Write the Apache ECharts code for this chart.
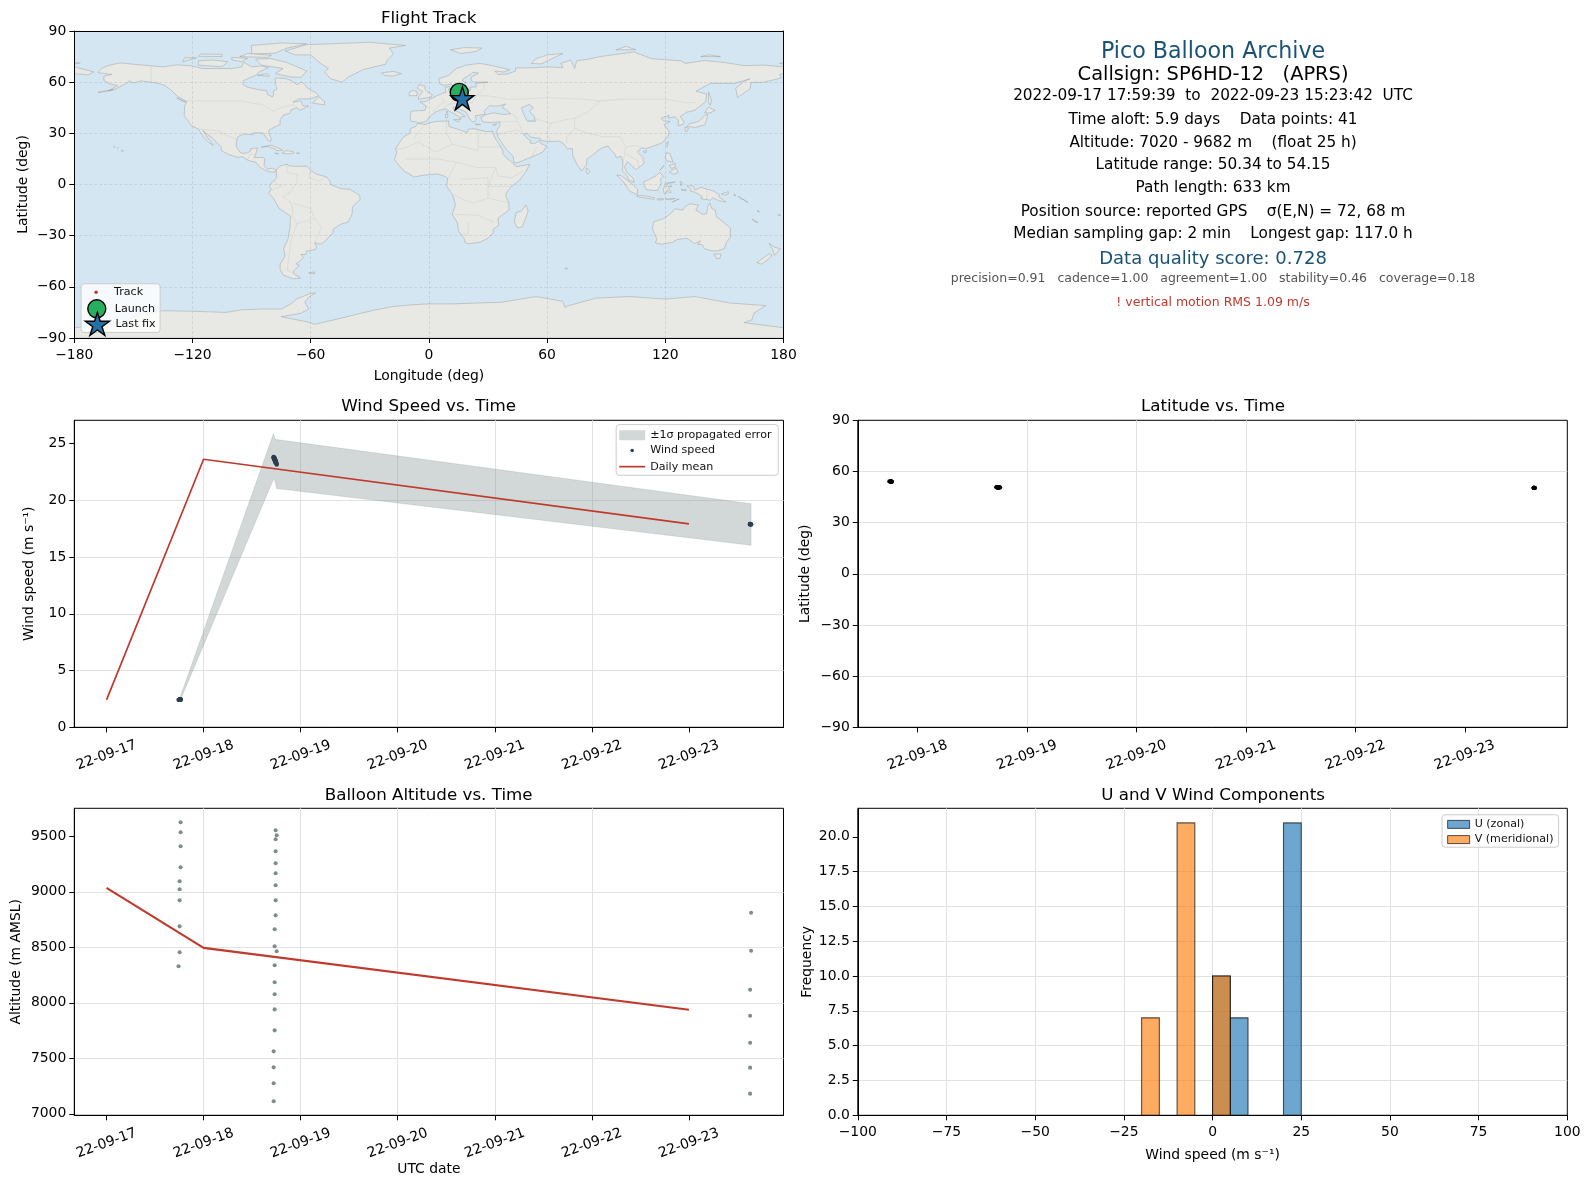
<!DOCTYPE html>
<html><head><meta charset="utf-8">
<style>html,body{margin:0;padding:0;background:#fff}#c{width:1589px;height:1189px}</style>
<script src="https://cdn.jsdelivr.net/npm/echarts@6/dist/echarts.min.js"></script>
</head><body><div id="c"></div>
<script>
// ---------- data ----------
const dayTicksWind = [17,18,19,20,21,22,23];
const dayTicksLat = [18,19,20,21,22,23];
const lonTicks = [-180,-120,-60,0,60,120,180];
const latTicks = [-90,-60,-30,0,30,60,90];
const windTicks = [0,5,10,15,20,25];
const altTicks = [7000,7500,8000,8500,9000,9500];
const histXTicks = [-100,-75,-50,-25,0,25,50,75,100];
const histYTicks = [0,2.5,5,7.5,10,12.5,15,17.5,20];

// sample time (day of September 2022, UTC)
const sampleDay = [17.742,17.753,17.753,17.753,17.753,17.753,17.763,17.763,17.763,17.763,
 18.722,18.722,18.722,18.722,18.732,18.732,18.732,18.732,18.732,18.753,18.732,18.732,18.742,18.742,18.742,18.742,18.742,18.742,18.742,18.753,18.742,
 23.630,23.630,23.630,23.630,23.630,23.640,23.640];
const sampleAlt = [8329,8455,8689,8923,9023,9095,9221,9410,9536,9626,
 7113,7275,7419,7563,7752,7941,8077,8185,8338,8464,8509,8662,8788,8923,9059,9167,9257,9365,9473,9509,9554,
 7182,7416,7640,7884,8118,8469,8811];
const sampleLat = [54.15,54.13,54.12,54.10,54.08,54.07,54.05,54.03,54.02,54.00,
 50.75,50.74,50.74,50.73,50.72,50.71,50.71,50.70,50.69,50.68,50.68,50.67,50.66,50.65,50.65,50.64,50.63,50.62,50.62,50.61,50.60,
 50.40,50.39,50.38,50.37,50.36,50.35,50.34];
const sampleLon = [15.2,15.2,15.3,15.3,15.3,15.4,15.4,15.4,15.5,15.5,
 16.0,16.0,16.0,16.1,16.1,16.1,16.1,16.2,16.2,16.2,16.2,16.3,16.3,16.3,16.3,16.4,16.4,16.4,16.4,16.5,16.5,
 17.0,17.0,17.0,17.1,17.1,17.1,17.1];
const sampleWind = [2.42,2.46,2.44,2.47,2.45,2.43,2.46,2.44,2.46,2.45,
 23.83,23.80,23.76,23.72,23.70,23.68,23.65,23.62,23.58,23.15,23.55,23.52,23.50,23.48,23.45,23.42,23.40,23.38,23.35,23.25,23.32,
 17.90,17.88,17.92,17.89,17.91,17.90,17.87];
const launchPoint = [15.4,54.0];
const lastFixPoint = [17.0,50.5];

const bandDay =   [17.756,18.72,18.735,18.753,23.64];
const bandUpper = [2.6,25.88,25.40,25.35,19.70];
const bandLower = [2.3,21.86,21.70,21.04,16.04];

const meanDay = [17,18,23];
const meanWind = [2.42,23.62,17.92];
const meanAlt = [9035,8495,7938];

const uBinLeft = [0,5,20], uBinRight = [5,10,25], uCount = [10,7,21];
const vBinLeft = [-20,-10,0], vBinRight = [-15,-5,5], vCount = [7,21,10];

const infoLines = [
 'Pico Balloon Archive','Callsign: SP6HD-12   (APRS)','2022-09-17 17:59:39  to  2022-09-23 15:23:42  UTC',
 'Time aloft: 5.9 days    Data points: 41','Altitude: 7020 - 9682 m    (float 25 h)','Latitude range: 50.34 to 54.15',
 'Path length: 633 km','Position source: reported GPS    σ(E,N) = 72, 68 m','Median sampling gap: 2 min    Longest gap: 117.0 h',
 'Data quality score: 0.728','precision=0.91   cadence=1.00   agreement=1.00   stability=0.46   coverage=0.18','! vertical motion RMS 1.09 m/s'];

// coastlines, [lon,lat] outlines
const landOutlines = [
 // North America
 [[-168,65.6],[-166,68.3],[-162,70],[-156.5,71.3],[-150,70.5],[-141,69.6],[-135,69],[-128,70.2],[-120,69.5],[-115,68],[-108,68],[-100,68],[-95,69],[-94,71.8],[-90,69],[-85,69.5],[-81.5,68.5],[-86,66],[-88,64],[-94,61],[-94.5,58.8],[-92,57],[-85,55.3],[-82.3,55],[-82,52.8],[-79.5,51.3],[-78.8,52.5],[-79,54.7],[-77,56],[-78,58.7],[-78,62.4],[-73,62.2],[-70,61],[-67,58.5],[-64.5,60.2],[-61.5,56.5],[-57,53.5],[-56,52],[-60,50.2],[-66,50.2],[-69,48.3],[-65,49],[-64.5,47.8],[-64,46.2],[-61,46],[-65.5,43.5],[-67,45],[-70,43.7],[-70.5,41.8],[-74,40.6],[-75.5,38],[-75.5,35.2],[-77.8,34],[-81,32],[-81.4,30.5],[-80,26.8],[-80.4,25.2],[-81.8,26],[-82.8,28],[-84,30],[-86,30.4],[-89.5,30.2],[-89.3,29.1],[-91.5,29.4],[-94,29.6],[-97.2,27.8],[-97.7,24.5],[-97.8,22.3],[-96,19],[-94.5,18.2],[-92,18.6],[-90.7,19.5],[-90.3,21],[-87,21.5],[-87.7,18.5],[-88.7,15.8],[-84,15.8],[-83.3,15],[-83.7,11],[-82,9],[-79.5,9.5],[-77.4,8.6],[-78,7.5],[-80.5,7.3],[-83,8.3],[-85.7,10],[-87.7,13],[-91.5,14],[-94.5,16.2],[-97,15.9],[-101.5,17.5],[-105.5,20],[-105.3,21.8],[-108,25],[-109.5,27],[-112.5,29.5],[-114.7,31.7],[-112.8,28],[-110,24],[-109.5,23],[-112,24.8],[-114.5,28],[-117,32.5],[-120.6,34.5],[-122.5,37.5],[-124.2,40.3],[-124,46],[-123,48.5],[-125,50],[-128,52],[-130.5,55],[-134,58],[-138,59.5],[-146,60.8],[-150,59.5],[-152,60.8],[-154,59],[-160,55.5],[-163,54.8],[-158,58],[-162,59],[-165,61],[-165,63.5],[-161,64.5]],
 // Greenland
 [[-73,78.3],[-68,76],[-60,76],[-55,71],[-51,68],[-53,66],[-50,62],[-44,60],[-41,63],[-33,67.5],[-22,70.5],[-21,73],[-18,76.5],[-20,80],[-12,81.5],[-30,83.4],[-50,82.5],[-62,82]],
 // Canadian Arctic and Atlantic Canada
 [[-80,73.8],[-72,71.5],[-67,69],[-62,66.5],[-65,62.8],[-70,63],[-78,65],[-74,68],[-85,70],[-88,73.5]],
 [[-117,70],[-105,69],[-102,72],[-110,73],[-117,72.5]],
 [[-125,72],[-118,74.3],[-124,74.3]],
 [[-90,76.5],[-78,77],[-72,80],[-62,82.5],[-75,83],[-90,81.5]],
 [[-96,75],[-82,74.5],[-80,75.8],[-92,76.8]],
 [[-117,75.2],[-105,75],[-105,76.3],[-116,76.5]],
 [[-100,73],[-95,72],[-92,74],[-100,74.5]],
 [[-87,64],[-81,63.5],[-82,65]],
 [[-59,47.7],[-53,46.7],[-53,48.7],[-56,51.5]],
 [[-128,50.8],[-123.3,48.4],[-125,48.8]],
 // Caribbean, Pacific
 [[-85,21.9],[-80,23],[-75,20.7],[-74.2,20.1],[-77.5,19.9],[-78,20.7],[-82,22.4]],
 [[-74.4,18.4],[-72.5,19.9],[-69,19.3],[-68.4,18.5],[-71.5,17.8]],
 [[-78.3,18.4],[-76.3,18.2],[-77.2,17.8]],
 [[-67.2,18.5],[-65.6,18.4],[-66.5,18]],
 [[-156,20.2],[-155,19.7],[-155.7,19]],
 [[-158.2,21.6],[-157.7,21.4],[-158,21.2]],
 [[-160,22.2],[-159.3,22.1],[-159.6,21.9]],
 [[-168,54],[-160,55.8],[-165,54.4]],
 // South America
 [[-77.4,8.6],[-75.6,10.8],[-72,12],[-71.3,11],[-68,10.7],[-62,10.7],[-60,8.4],[-57,6],[-52,4.5],[-50,1.5],[-50,0],[-44.5,-2.5],[-40,-2.8],[-37,-5],[-35,-6.5],[-35,-9],[-38.8,-13],[-39,-17.5],[-41,-22],[-44.5,-23.2],[-48.5,-26],[-48.8,-28.5],[-53,-33.5],[-55,-35],[-58,-34.2],[-57,-36.5],[-57.7,-38.2],[-62,-39],[-62.5,-41],[-65,-41],[-63.7,-42.7],[-65.5,-45],[-67.5,-46.5],[-65.8,-47.5],[-69,-51],[-68.3,-52.5],[-65.2,-54.8],[-69,-55.3],[-74,-53],[-75.5,-50],[-75.5,-46.7],[-73,-42],[-73.7,-37.5],[-71.5,-32],[-70.5,-25],[-70.3,-18.5],[-76,-14],[-79,-8],[-81.3,-5],[-80,-2.5],[-81,-1],[-80,1],[-78.8,2],[-77.2,4],[-77.5,7]],
 [[-61,-51.8],[-58,-51.3],[-58,-52.2],[-60,-52.3]],
 // Africa
 [[-5.8,35.8],[-2,35.2],[3,36.9],[10,37.3],[10.2,34],[15,32.3],[19.5,30.4],[20,32.5],[23,32.7],[29,31],[32.5,31.2],[32.4,30],[32.7,29.5],[34,26.5],[36,23],[37.5,20],[37.5,18],[39.5,15.5],[43,12.2],[43.3,11.5],[44.5,10.5],[51.2,11.8],[49,7],[46,2.5],[42,-1],[39.5,-4.5],[39,-7],[40.5,-10.5],[40.7,-15],[36.5,-18.5],[35,-20],[35.5,-24],[32.8,-26],[32.5,-28.5],[30,-31.5],[26,-33.8],[20,-34.8],[18.3,-34],[18,-32],[15,-27],[14.5,-22.5],[11.8,-17.5],[13.5,-12],[12,-6],[9,-1],[9.5,3.5],[8.5,4.6],[4.5,6.2],[1,5.9],[-4,5.2],[-7.5,4.4],[-12.5,7.8],[-15,11],[-17.5,14.7],[-16.2,19],[-17,21],[-15,24.5],[-13,27.8],[-9.7,30],[-9.3,32.8],[-6.5,34.2]],
 [[49.3,-12],[50.4,-15.5],[47.5,-24.8],[45,-25.5],[43.3,-22],[44.3,-16.5],[47,-15.5]],
 // Eurasia
 [[-9,37],[-9.5,39],[-9,43],[-2,43.5],[-1.3,46],[-4.5,48.4],[-1.5,48.7],[1.5,50.5],[4,52],[7,53.5],[8.7,54],[8.2,56.8],[10.6,57.6],[10,55],[11,54],[14,54],[18.5,54.7],[21,55],[21,57],[24,57.2],[24,59.3],[30,60],[23,60],[21.3,61],[21.5,63],[25.3,65.3],[22.3,65.8],[21,64.5],[17.5,62],[17,60.7],[18.8,59.8],[16.5,57],[14.3,55.5],[12.7,55.8],[11.2,59],[8,58],[5.5,59],[5,62],[10,64],[14,68],[19,70],[25.7,71],[31,70],[41,67.3],[38,66],[33.5,66.5],[35,64.5],[40,64.8],[44,66.5],[44,68.3],[54,68.5],[60,69],[68,68.5],[67,71],[72,73],[74,68],[75,72.5],[81,73.5],[87,75],[104,77.7],[113,73.8],[128,72.5],[130,71],[140,72.7],[150,71.5],[160,69.7],[170,70],[180,69],[180,65],[178,64.5],[179,62.5],[170,60],[163.5,59.8],[163,56],[156.7,51],[155.7,56.5],[160,60.5],[163,62],[155,59.3],[143,59.3],[135.5,54.7],[141,53],[140.5,48.5],[135,43.5],[130.7,42.3],[127.5,39.8],[129.5,37],[129,35.2],[126.5,34.5],[126.7,37.7],[125,39.7],[121.5,39],[122,40.6],[118,39],[119,37.3],[122.5,37],[119.3,35],[122,31],[121.5,28.5],[118.5,24.5],[113.5,22.3],[110,21],[108,21.6],[105.8,19],[108.5,16],[109.3,12.5],[106.7,10],[105,8.7],[103,11],[100.8,13.5],[99.3,10],[100.5,7],[103.5,4],[104.2,1.4],[101.5,2.5],[100.3,5.5],[98.3,8],[98.5,13],[97.5,16.5],[95,15.8],[94.3,18],[92,21],[91,22.5],[88.5,21.8],[86.8,20.7],[82.3,16.6],[80.2,15],[80,11.5],[77.5,8],[75,12],[73,17],[72.8,21],[70.2,21],[68.7,23.5],[66.5,25.4],[61.5,25.2],[57.3,25.7],[56.5,27],[51.5,27.8],[50,30],[48,29.5],[50.2,26.7],[51.5,25.8],[51.5,24.2],[54,24.2],[56.3,26],[56.8,24],[59.8,22.5],[57.8,19],[52,16],[45,12.8],[43.2,12.8],[42.7,16.5],[39,21],[35,28],[34.9,29.5],[34.3,31.3],[36,34.5],[36,36.7],[30.5,36.3],[27.3,36.8],[26.3,39.4],[29,41],[33,42],[38,41],[41.5,41.5],[39,44],[37,45.3],[39,47.2],[35,46],[33,46],[30.8,46.3],[28,43],[28.5,41.3],[26,40.7],[23.5,40.3],[24,38],[22.8,36.5],[21.2,37.7],[19.5,41],[19,42.3],[14,45.2],[12.3,45.3],[12.5,44],[16,41.8],[18.4,40],[16.6,39.8],[16,38],[15.8,39.5],[12.5,41.6],[10.2,43],[8.7,44.4],[5,43.3],[3.1,42.3],[0,39.5],[-0.5,38],[-2,36.8],[-5.5,36],[-6.4,36.7]],
 [[-180,69],[-175,67.5],[-170,66],[-173,64.3],[-180,65]],
 // Europe islands
 [[-5.5,50],[1.2,51.2],[1.7,52.7],[-1,54.5],[-2,56],[-2,57.6],[-5,58.6],[-6,56.5],[-3,54.5],[-5,52]],
 [[-10,52],[-6,52.2],[-6,54.5],[-8.5,55.2],[-10,54]],
 [[-24,65.5],[-18,66.3],[-14,65],[-18.5,63.5],[-22.5,64]],
 [[11,79],[16,76.8],[24,78],[27,80],[18,80.3]],
 [[52,71],[57,70.7],[68,76.8],[60,76],[54,73.5]],
 [[95,79],[105,79],[100,81]],
 [[138,75],[148,75],[142,76]],
 [[178,71],[180,71.5],[180,70.8]],
 [[-180,71.5],[-177,71.2],[-180,70.8]],
 [[8.3,41],[9.7,41],[9.5,39.2],[8.5,39]],
 [[8.7,42.8],[9.5,42.8],[9.2,41.5]],
 [[12.5,38],[15.6,38.2],[15,36.7]],
 [[23.5,35.5],[26.2,35.2],[24,35]],
 [[32.4,35],[34.5,35.6],[33.5,34.7]],
 // Asia islands
 [[80,9.7],[81.8,7.5],[80.5,6],[79.8,8]],
 [[130.9,34],[135.5,33.5],[140,35],[141,38],[141.5,41.3],[140,40.5],[137,37],[132,35.5]],
 [[130,33.5],[131.8,33],[131,31],[130.2,31.3]],
 [[140,42],[141.8,45.4],[145.3,43.5],[143,42]],
 [[142,54.3],[143.5,49],[142.8,46.5],[142,48]],
 [[121.5,25.2],[121,22],[120.2,23]],
 [[108.7,19.3],[110.5,20],[110,18.3]],
 [[120.5,18.5],[122.2,18.3],[124,13],[120.7,14],[120,16]],
 [[122,7.2],[125.5,9.7],[126.5,7],[124,6]],
 [[122,11],[125,12.3],[125,10],[123,9.5]],
 [[117.2,8.4],[119.5,11.3],[118,9.2]],
 [[109,1.5],[111.5,2.8],[115,5],[117,7],[119,5],[117.5,3],[118,1],[116,-3.5],[114,-3.5],[110.3,-3],[109,0]],
 [[95.3,5.5],[97.5,5.2],[103.5,0],[106,-3],[105.8,-5.8],[102,-4],[98.7,1.7]],
 [[105.3,-6.6],[108.5,-6.5],[114.5,-7.7],[114.3,-8.7],[106.5,-7.4]],
 [[119.5,-5.5],[119,-3],[120,0.8],[125,1.5],[121,0.4],[120.3,-1],[123.3,-1],[121.5,-2],[123,-4.5],[122,-5],[121,-3],[120.3,-5.5]],
 [[116,-8.4],[119,-8.3],[119,-9],[116,-9]],
 [[120,-8.5],[125,-8.2],[122,-9]],
 [[123.5,-10.3],[127,-8.4],[125,-9.5]],
 [[127.5,1.8],[128.8,1],[128,-0.8]],
 [[128,-3],[130.8,-3.2],[129,-3.5]],
 // Oceania
 [[131,-0.8],[134,-0.8],[135,-3.3],[138,-1.7],[144.5,-3.8],[147.5,-6],[147,-7],[150.8,-10.3],[147,-9.5],[144,-7.7],[143,-9.2],[138,-8.3],[138.7,-7],[135,-4.4],[132.8,-4],[133,-2.7]],
 [[148.5,-5.5],[152,-4.2],[152,-5.5],[150,-6.3]],
 [[155,-5.5],[155.8,-6.8],[155,-6.5]],
 [[157,-7],[160,-9],[159,-8.8]],
 [[160,-9],[162,-10.5],[161,-10.2]],
 [[166.6,-15],[167.8,-16],[167,-16]],
 [[164,-20.2],[167,-22.3],[165,-21.5]],
 [[177.3,-17.5],[178.6,-18],[177.5,-18.2]],
 [[114,-22],[113.5,-26],[115.7,-32],[115,-34.3],[118,-35],[123.5,-34],[126,-32.3],[131,-31.5],[135,-34.7],[137.8,-33],[136.5,-35.3],[138.5,-35],[140,-37.8],[143.5,-38.8],[146.3,-39],[150,-37.5],[151,-34],[153,-31],[153,-25.5],[149.5,-22],[146,-19],[145.3,-15],[143.5,-14],[142.5,-10.8],[141.5,-13],[141,-17],[139,-17.5],[135.5,-15],[136.8,-12],[132.5,-11.3],[130,-13],[129,-15],[125,-14.2],[122.3,-17.5],[119,-20]],
 [[144.8,-40.8],[148.2,-40.8],[147.8,-43.2],[146,-43.5]],
 [[172.7,-34.5],[175.5,-36.8],[178.4,-37.7],[175.3,-41.6],[174.8,-39]],
 [[172.7,-40.6],[174.2,-41.7],[171,-45],[169,-46.7],[166.5,-45.8],[171,-42]],
 [[69,-49],[70.5,-49.2],[69.5,-49.7]],
 // Antarctica
 [[-180,-84],[-155,-81],[-148,-76.5],[-135,-74],[-120,-74.3],[-103,-75],[-95,-73.5],[-85,-73],[-75,-73],[-70,-70],[-67,-67],[-60,-63.8],[-57.5,-63.6],[-61,-66],[-63,-69],[-61,-73],[-65,-75.5],[-75,-77.5],[-62,-80.5],[-58,-82],[-45,-78.5],[-35,-75.6],[-27,-73.5],[-18,-71.5],[-8,-70.5],[0,-70],[12,-70],[37,-69],[54.4,-65.7],[68,-68.5],[69,-72],[71,-71],[85,-66.6],[102,-65.7],[120,-67.2],[135,-65.7],[153,-69.5],[171,-71],[165,-75.4],[164,-79.3],[160,-81],[180,-84],[180,-90],[-180,-90]]
];
const inlandSeas = [
 [[47,45],[51,47],[53,45],[51,43],[53.5,40],[54,37],[50,37.2],[49,39],[47.5,43]]
];
const borderLines = [
 [[-141,69.6],[-141,60.3]],[[-123,49],[-95,49],[-84,46.5],[-79,43],[-75,45],[-69,47],[-67,45]],
 [[-117,32.5],[-107,31.5],[-97.2,26]],[[-92,14.5],[-91,17.5],[-89,18]],
 [[-72,12],[-72,7],[-67,6],[-67,1.5],[-70,-4],[-74,-7],[-70,-11],[-69,-16],[-69.5,-18],[-67,-23],[-70,-33],[-72,-50],[-69,-52]],
 [[-60,8.4],[-61,4],[-56,2],[-52,4.5]],[[-80,-3.5],[-75,-1],[-78.8,2]],[[-60,-14],[-58,-20],[-54.5,-25.5],[-58,-34]],[[-69,-11],[-60,-14]],[[-67,-23],[-58,-20]],
 [[-17,21],[-13,21],[-5,25],[3,19],[12,23.5],[25,20],[25,32]],[[25,22],[37,22]],[[-12,15],[4,15],[14,13],[24,10],[34,10],[35,5],[42,4],[48,8]],
 [[9.5,3.5],[14,13]],[[16,3],[30,4],[30,-8],[22,-11],[12,-6]],[[30,-8],[40,-10.5]],[[12,-17.5],[25,-18],[33,-22]],[[20,-22],[20,-29],[17,-29]],[[34,10],[30,-1],[42,-1]],[[9,37],[9,30],[12,23.5]],[[-8,27],[-2,35]],
 [[22,48],[24,52],[28,56],[28,60]],[[40,50],[30,52],[24,52]],[[40,50],[48,50],[60,51],[78,50],[87,49],[98,50],[108,50],[120,50],[130,48],[135,48]],
 [[87,49],[80,42],[74,39],[62,36],[55,38],[50,37.2]],[[74,39],[74,33],[78,31],[88,28],[97,28],[100,22],[105,23],[108,21.6]],[[62,36],[60,30],[61.5,25.2]],[[74,33],[70,28],[70,24]],
 [[36,36.7],[45,37],[48,30]],[[34.9,29.5],[45,32],[48,29.5]],[[45,37],[44,40],[41.5,41.5]],[[55,22],[52,16]],
 [[100,22],[98.5,13]],[[100,18],[106,14],[106.7,10]],[[10,47],[17,48],[22,48]],[[2,43],[8,49],[6,51]],[[14,54],[15,51],[10,47],[7,44]],
 [[141,-2.6],[141,-9]]
];

// ---------- layout helpers ----------
const S = 1589/1568;            // legend and text offsets were measured on a view of the figure 1568 wide
const P = v => v*S;
const INK = '#000';
const GRIDLINE = '#e2e2e2';
const FONT = '"DejaVu Sans"';
const TICK_PX = 13.9, TITLE_PX = 16.7, LEG_PX = 11.1;
const minus = s => String(s).replace('-', '−');
const CIRCLE = 'path://M0,-10 A10,10 0 1,1 0,10 A10,10 0 1,1 0,-10 Z';
const STAR = 'path://M0,-10 L2.245,-3.09 L9.51,-3.09 L3.63,1.18 L5.88,8.09 L0,3.82 L-5.88,8.09 L-3.63,1.18 L-9.51,-3.09 L-2.245,-3.09 Z';

const gridBox = (left,top,width,height) => ({left,top,width,height,show:true,backgroundColor:'#fff',borderColor:INK,borderWidth:1});
const grids = [
 Object.assign(gridBox(74.3,31,709.2,307),{backgroundColor:'#d4e6f1',borderWidth:0,borderColor:'transparent'}),
 gridBox(74.3,420.3,709.2,307), gridBox(857.8,420.3,709.5,307), gridBox(74.3,808.3,709.2,307), gridBox(857.8,808.3,709.5,307)
];

function axis(gridIndex, dim, min, max, ticks, fmt, name, nameGap, extra) {
  const rot = extra && extra.rotated;
  const o = {
    type:'value', gridIndex, min, max, scale:true,
    name: name || '', nameLocation:'middle', nameGap: nameGap || 0,
    nameTextStyle:{fontFamily:FONT,fontSize:TICK_PX,color:INK},
    axisLine:{show:true,onZero:false,lineStyle:{color:INK,width:1}},
    axisTick:{show:true,length:5,inside:false,customValues:ticks,lineStyle:{color:INK,width:1}},
    axisLabel:{show:true,customValues:ticks,formatter:fmt,fontFamily:FONT,fontSize:TICK_PX,color:INK,margin:rot?28:(dim==='x'?10:8),hideOverlap:false,
      showMinLabel:true,showMaxLabel:true},
    splitLine:{show:true,showMinLine:false,showMaxLine:false,lineStyle:{color:GRIDLINE,width:1}},
    z: (extra && extra.z) || 0
  };
  if (dim === 'y') o.axisLabel.padding = [2,0,0,0];
  if (rot) { o.axisLabel.rotate = 20; o.axisLabel.align = 'center'; o.axisLabel.verticalAlign = 'middle'; }
  if (extra && extra.dashed) o.splitLine.lineStyle = {color:'rgba(110,120,125,0.22)',width:0.8,type:[3,2]};
  return o;
}
const dayFmt = v => '22-09-' + v;
const xAxes = [
 axis(0,'x',-180,180,lonTicks,minus,'Longitude (deg)',31,{dashed:true,z:3}),
 axis(1,'x',16.668,23.974,dayTicksWind,dayFmt,'',0,{rotated:true}),
 axis(2,'x',17.454,23.937,dayTicksLat,dayFmt,'',0,{rotated:true}),
 axis(3,'x',16.668,23.974,dayTicksWind,dayFmt,'UTC date',47,{rotated:true}),
 axis(4,'x',-100,100,histXTicks,minus,'Wind speed (m s⁻¹)',33),
 {type:'value',gridIndex:0,position:'top',min:-180,max:180,z:3,axisLine:{show:true,onZero:false,lineStyle:{color:INK,width:1}},axisTick:{show:false},axisLabel:{show:false},splitLine:{show:false}}
];
const yAxes = [
 axis(0,'y',-90,90,latTicks,minus,'Latitude (deg)',44,{dashed:true,z:3}),
 axis(1,'y',0,27.05,windTicks,String,'Wind speed (m s⁻¹)',38),
 axis(2,'y',-90,90,latTicks,minus,'Latitude (deg)',45),
 axis(3,'y',6987,9752,altTicks,String,'Altitude (m AMSL)',51),
 axis(4,'y',0,22.05,histYTicks,v=>v.toFixed(1),'Frequency',43),
 {type:'value',gridIndex:0,position:'right',min:-90,max:90,z:3,axisLine:{show:true,onZero:false,lineStyle:{color:INK,width:1}},axisTick:{show:false},axisLabel:{show:false},splitLine:{show:false}}
];

function polygonSeries(name, outlines, idx, style, z) {
  return {name, type:'custom', coordinateSystem:'cartesian2d', xAxisIndex:idx, yAxisIndex:idx, z, clip:true, silent:true,
    data: outlines.map((_, i) => [i]), encode:{x:-1,y:-1},
    renderItem:(params, api) => {
      const pts = outlines[api.value(0)].map(p => api.coord(p));
      return {type:'polygon', shape:{points:pts}, style};
    }};
}
function polylineSeries(name, lines, idx, style, z) {
  return {name, type:'custom', coordinateSystem:'cartesian2d', xAxisIndex:idx, yAxisIndex:idx, z, clip:true, silent:true,
    data: lines.map((_, i) => [i]), encode:{x:-1,y:-1},
    renderItem:(params, api) => ({type:'polyline', shape:{points:lines[api.value(0)].map(p => api.coord(p))}, style})};
}
function histSeries(name, left, right, count, fill) {
  return {name, type:'custom', coordinateSystem:'cartesian2d', xAxisIndex:4, yAxisIndex:4, z:2, silent:true,
    data: left.map((l, i) => [l, right[i], count[i]]), encode:{x:[0,1],y:2},
    itemStyle:{color:fill},
    renderItem:(params, api) => {
      const a = api.coord([api.value(0), 0]), b = api.coord([api.value(1), api.value(2)]);
      return {type:'rect', shape:{x:a[0], y:b[1], width:b[0]-a[0], height:a[1]-b[1]},
        style:{fill, stroke:'rgba(0,0,0,0.65)', lineWidth:1.1}};
    }};
}
const zip = (a, b) => a.map((v, i) => [v, b[i]]);
const bandOutline = [...zip(bandDay, bandUpper), ...zip(bandDay, bandLower).reverse()];
const BAND_FILL = 'rgba(127,140,141,0.35)';
const BAND_EDGE = 'rgba(127,140,141,0.2)';
const RED = '#c0392b', GREEN = '#27ae60', STARBLUE = '#2471a3';
const dot = (color, extra) => Object.assign({color, opacity:1}, extra || {});
const rim = {borderColor:INK, borderWidth:1.4};

const series = [
 polygonSeries('Land', landOutlines, 0, {fill:'#e8e8e4', stroke:'rgba(150,155,155,0.45)', lineWidth:1}, 1),
 polygonSeries('Inland seas', inlandSeas, 0, {fill:'#d4e6f1', stroke:'rgba(150,155,155,0.45)', lineWidth:1}, 1.1),
 polylineSeries('Borders', borderLines, 0, {fill:'none', stroke:'rgba(150,150,150,0.2)', lineWidth:0.8}, 1.2),
 {name:'Track',type:'scatter',xAxisIndex:0,yAxisIndex:0,z:4,symbolSize:3.5,itemStyle:dot(RED),data:zip(sampleLon,sampleLat),silent:true},
 {name:'Launch',type:'scatter',xAxisIndex:0,yAxisIndex:0,z:5,symbol:'circle',symbolSize:18,itemStyle:dot(GREEN,rim),data:[launchPoint],silent:true},
 {name:'Last fix',type:'scatter',xAxisIndex:0,yAxisIndex:0,z:6,symbol:STAR,symbolSize:23,itemStyle:dot(STARBLUE,rim),data:[lastFixPoint],silent:true},

 polygonSeries('±1σ propagated error', [bandOutline], 1, {fill:BAND_FILL, stroke:BAND_EDGE, lineWidth:1}, 2),
 {name:'Wind speed',type:'scatter',xAxisIndex:1,yAxisIndex:1,z:3,symbolSize:4.4,itemStyle:dot('#2c3e50'),data:zip(sampleDay,sampleWind),silent:true},
 {name:'Daily mean',type:'line',xAxisIndex:1,yAxisIndex:1,z:4,symbol:'none',lineStyle:{color:RED,width:1.7},itemStyle:{color:RED},data:zip(meanDay,meanWind),silent:true},

 {name:'Latitude',type:'scatter',xAxisIndex:2,yAxisIndex:2,z:3,symbolSize:4.2,itemStyle:dot('#000'),data:zip(sampleDay,sampleLat),silent:true},

 {name:'Altitude',type:'scatter',xAxisIndex:3,yAxisIndex:3,z:3,symbolSize:4.1,itemStyle:dot('#7f8c8d'),data:zip(sampleDay,sampleAlt),silent:true},
 {name:'Altitude mean',type:'line',xAxisIndex:3,yAxisIndex:3,z:4,symbol:'none',lineStyle:{color:RED,width:2.1},data:zip(meanDay,meanAlt),silent:true},

 histSeries('U (zonal)', uBinLeft, uBinRight, uCount, 'rgba(31,119,180,0.65)'),
 histSeries('V (meridional)', vBinLeft, vBinRight, vCount, 'rgba(255,127,14,0.65)')
];

// legends: one per entry so every key keeps its own symbol size.
// The legend box starts at the drawn symbol, so offset by the empty part of the key slot.
function key(name, iconX, cy, w, h, icon, itemStyle) {
  const textH = 10;
  const symbolWidth = icon === 'rect' ? w : h;
  return {show:true, selectedMode:false, z:20, padding:0, itemGap:0, orient:'horizontal',
    left:P(iconX) + (w - symbolWidth)/2, top:P(cy) - Math.max(h, textH)/2, itemWidth:w, itemHeight:h,
    textStyle:{fontFamily:FONT,fontSize:LEG_PX,color:'#111'},
    data:[{name, icon, itemStyle}]};
}
const legends = [
 key('Track',82,288,26,3.5,CIRCLE,dot(RED)),
 key('Launch',82,304,26,18,CIRCLE,dot(GREEN,rim)),
 key('Last fix',82,319,26,23,STAR,dot(STARBLUE,rim)),
 key('±1σ propagated error',611,429,26,10,'rect',{color:BAND_FILL,borderColor:BAND_EDGE,opacity:1}),
 key('Wind speed',611,444,26,3.5,CIRCLE,dot('#2c3e50')),
 key('Daily mean',611,460,26,1.7,'rect',{color:RED,opacity:1}),
 key('U (zonal)',1428,813,22,8,'rect',{color:'rgba(31,119,180,0.65)',borderColor:'rgba(0,0,0,0.65)',borderWidth:1,opacity:1}),
 key('V (meridional)',1428,828,22,8,'rect',{color:'rgba(255,127,14,0.65)',borderColor:'rgba(0,0,0,0.65)',borderWidth:1,opacity:1})
];
const legendBox = (x,y,w,h) => ({type:'rect',z:15,silent:true,shape:{x:P(x),y:P(y),width:P(w),height:P(h),r:3},
  style:{fill:'rgba(255,255,255,0.8)',stroke:'#cccccc',lineWidth:1}});

const titles = [
 ['Flight Track',423,18],['Wind Speed vs. Time',423,401],['Latitude vs. Time',1197,401],
 ['Balloon Altitude vs. Time',423,785],['U and V Wind Components',1197,785]
].map(([text,x,y]) => ({text,left:P(x),top:P(y),textAlign:'center',textVerticalAlign:'middle',padding:0,
  textStyle:{fontFamily:FONT,fontSize:TITLE_PX,fontWeight:'normal',color:INK}}));

const infoStyle = [
 {y:52,s:22.2,c:'#1a5276'},{y:74,s:19.4,c:'#000'},{y:95,s:15.3,c:'#000'},{y:118,s:15.3,c:'#000'},{y:141,s:15.3,c:'#000'},
 {y:163,s:15.3,c:'#000'},{y:186,s:15.3,c:'#000'},{y:209,s:15.3,c:'#000'},{y:231,s:15.3,c:'#000'},{y:256,s:18,c:'#1a5276'},
 {y:275,s:12.5,c:'#555555'},{y:299,s:12.5,c:'#c0392b'}
];
const infoTexts = infoLines.map((text,i) => ({type:'text',z:5,silent:true,x:P(1197),y:P(infoStyle[i].y),
  style:{text,fontFamily:FONT,fontSize:infoStyle[i].s,fill:infoStyle[i].c,textAlign:'center',textVerticalAlign:'middle'}}));

const chart = echarts.init(document.getElementById('c'), null, {renderer:'canvas', width:1589, height:1189});
chart.setOption({
  animation:false, backgroundColor:'#fff', textStyle:{fontFamily:FONT},
  title:titles, grid:grids, xAxis:xAxes, yAxis:yAxes, series, legend:legends,
  graphic:[legendBox(80,280,78,48),legendBox(608,419,160,50),legendBox(1423,804,115,32),...infoTexts]
});
</script></body></html>
